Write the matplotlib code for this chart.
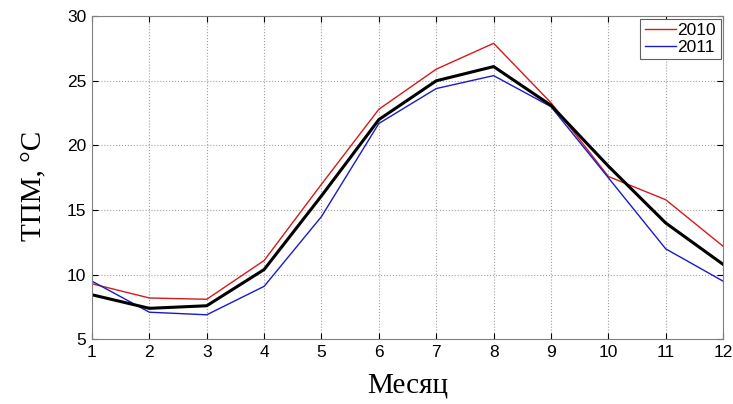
import matplotlib.pyplot as plt
import numpy as np

# Средняя температура по месяцам
months = np.arange(1, 13)
t_2010 = [9.3, 8.2, 8.1, 11.1, 17.0, 22.8, 25.9, 27.9, 23.3, 17.6, 15.8, 12.2]
t_2011 = [9.5, 7.1, 6.9, 9.1, 14.5, 21.7, 24.4, 25.4, 23.0, 17.5, 12.0, 9.5]
t_mean = [8.45, 7.4, 7.6, 10.4, 16.1, 22.0, 25.0, 26.1, 23.1, 18.4, 14.0, 10.8]

plt.rcParams['font.family'] = ['Liberation Sans', 'DejaVu Sans']

fig = plt.figure(figsize=(7.33, 4.04), dpi=100)
ax = fig.add_axes([0.1255, 0.160, 0.861, 0.800])

ax.plot(months, t_2010, color='#d41a1a', linewidth=1.0, label='2010')
ax.plot(months, t_2011, color='#1a1ac8', linewidth=1.0, label='2011')
ax.plot(months, t_mean, color='black', linewidth=2.2)

ax.set_xlim(1, 12)
ax.set_ylim(5, 30)
ax.set_xticks(months)
ax.set_yticks([5, 10, 15, 20, 25, 30])
ax.tick_params(direction='in', labelsize=12.5, length=4, top=True, right=True,
               labeltop=False, labelright=False, pad=4)
ax.grid(True, linestyle=':', color='#a0a0a0', linewidth=0.8)
for s in ax.spines.values():
    s.set_color('#808080')

ax.set_xlabel('Месяц', fontsize=21, family=['Liberation Serif', 'DejaVu Serif'], labelpad=9)
ax.set_ylabel('ТПМ, °C', fontsize=21, family=['Liberation Serif', 'DejaVu Serif'])
ax.yaxis.set_label_coords(-0.071, 0.475)

leg = ax.legend(loc='upper right', fontsize=12.5, handlelength=1.8, handletextpad=0.1,
                borderpad=0.25, labelspacing=0.1, fancybox=False, framealpha=1,
                borderaxespad=0.15)
leg.get_frame().set_edgecolor('#606060')
leg.get_frame().set_linewidth(0.8)

fig.savefig('out.png', dpi=100)
